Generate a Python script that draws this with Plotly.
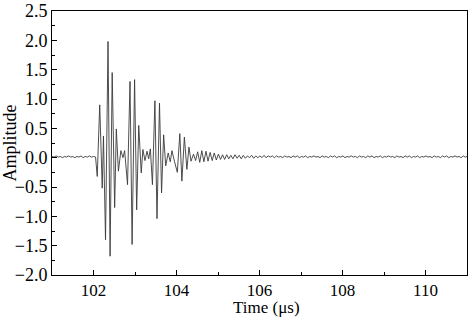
import numpy as np
import plotly.graph_objects as go

# quiet baseline before the burst (sampled every 0.05 us from 101.0)
pre_start = 101.0
pre_step = 0.05
pre_amp = [0.02, 0.01, 0.03, 0.01, 0.02, 0.00, 0.02, 0.01, 0.03, 0.01,
           0.02, 0.00, 0.02, 0.01, 0.03, 0.00, 0.02, 0.01, 0.03, 0.01,
           0.02, 0.01]

# main burst, read peak by peak
burst_time = [102.09, 102.15, 102.21, 102.24, 102.29, 102.35, 102.40, 102.45,
              102.51, 102.55, 102.60, 102.66, 102.71, 102.75, 102.82, 102.88,
              102.93, 102.99, 103.04, 103.09, 103.15, 103.19, 103.24, 103.29,
              103.33, 103.37, 103.42, 103.48, 103.53, 103.59, 103.64, 103.69,
              103.74, 103.80, 103.85, 103.89, 103.95, 104.02, 104.08, 104.13,
              104.19, 104.25, 104.30, 104.35, 104.41]
burst_amp = [-0.32, 0.90, -0.52, 0.37, -1.40, 1.98, -1.68, 1.45,
             -0.85, 0.49, -0.23, 0.12, 0.00, 0.12, -0.46, 1.30,
             -1.48, 1.33, -0.89, 0.55, -0.26, 0.14, -0.05, 0.11,
             -0.02, 0.15, -0.46, 0.97, -1.04, 0.93, -0.60, 0.39,
             -0.14, 0.08, -0.07, 0.12, -0.06, -0.25, 0.41, -0.40,
             0.35, -0.20, 0.18, -0.06, 0.06]

# decaying ring-down and noise tail (sampled every 0.05 us from 104.46)
tail_start = 104.46
tail_step = 0.05
tail_amp = [-0.05, 0.10, -0.08, 0.12, -0.07, 0.11, -0.06, 0.09, -0.05, 0.08,
            -0.04, 0.06, -0.03, 0.05, -0.03, 0.05, -0.02, 0.04, -0.02, 0.05,
            -0.01, 0.04, -0.02, 0.04, -0.01, 0.03, 0.00, 0.04, -0.01, 0.03,
            0.00, 0.03, 0.00, 0.04, 0.00, 0.03, 0.01, 0.03, 0.00, 0.03,
            0.01, 0.02, 0.00, 0.03, 0.01, 0.02, 0.00, 0.03, 0.01, 0.03,
            0.00, 0.02, 0.01, 0.03, 0.00, 0.02, 0.01, 0.03, 0.01, 0.02,
            0.00, 0.03, 0.01, 0.02, 0.00, 0.03, 0.01, 0.03, 0.00, 0.02,
            0.01, 0.03, 0.00, 0.02, 0.01, 0.03, 0.01, 0.02, 0.00, 0.03,
            0.01, 0.02, 0.00, 0.03, 0.01, 0.03, 0.00, 0.02, 0.01, 0.03,
            0.00, 0.02, 0.01, 0.03, 0.01, 0.02, 0.00, 0.03, 0.01, 0.02,
            0.00, 0.03, 0.01, 0.03, 0.00, 0.02, 0.01, 0.03, 0.00, 0.02,
            0.01, 0.03, 0.01, 0.02, 0.00, 0.03, 0.01, 0.02, 0.00, 0.03,
            0.01, 0.03, 0.00, 0.02, 0.01, 0.03, 0.01, 0.02, 0.00, 0.03,
            0.01, 0.02, 0.01]

pre_time = pre_start + pre_step * np.arange(len(pre_amp))
tail_time = tail_start + tail_step * np.arange(len(tail_amp))
time = np.concatenate([pre_time, burst_time, tail_time])
amp = np.concatenate([pre_amp, burst_amp, tail_amp])

font = dict(family="Liberation Serif", size=18, color="black")
xfont = dict(family="Liberation Serif", size=17, color="black")

fig = go.Figure()
fig.add_trace(go.Scatter(x=time, y=amp, mode="lines",
                         line=dict(color="#3a3a3a", width=0.9),
                         showlegend=False))

axis_common = dict(showgrid=False, zeroline=False, showline=True,
                   linecolor="black", linewidth=1, mirror=True,
                   ticks="inside", ticklen=5, tickwidth=1, tickcolor="black",
                   automargin=False, ticklabelstandoff=0)

fig.update_xaxes(range=[101, 111], dtick=2, tick0=102, tickfont=xfont,
                 minor=dict(dtick=1, tick0=101, ticks="inside", ticklen=3,
                            tickcolor="black"),
                 **axis_common)
fig.update_yaxes(range=[-2.0, 2.5], dtick=0.5, tick0=0, tickformat=".1f",
                 tickfont=font,
                 minor=dict(dtick=0.25, ticks="inside", ticklen=3,
                            tickcolor="black"),
                 title=dict(text="Amplitude", font=font, standoff=1),
                 **axis_common)

# x title placed by hand, bottom of its box on the bottom edge of the page
fig.add_annotation(text="Time (μs)", xref="paper", yref="paper",
                   x=0.517, y=-0.162, xanchor="center", yanchor="bottom",
                   showarrow=False, borderpad=0, font=xfont)

fig.update_layout(width=471, height=318,
                  margin=dict(l=52, r=4, t=11, b=43),
                  plot_bgcolor="white", paper_bgcolor="white",
                  font=font)

# drop the page's default body margin so the figure sits at the window corner
fig.write_html("out.html", config={"displayModeBar": False},
               post_script="document.body.style.margin='0';")
